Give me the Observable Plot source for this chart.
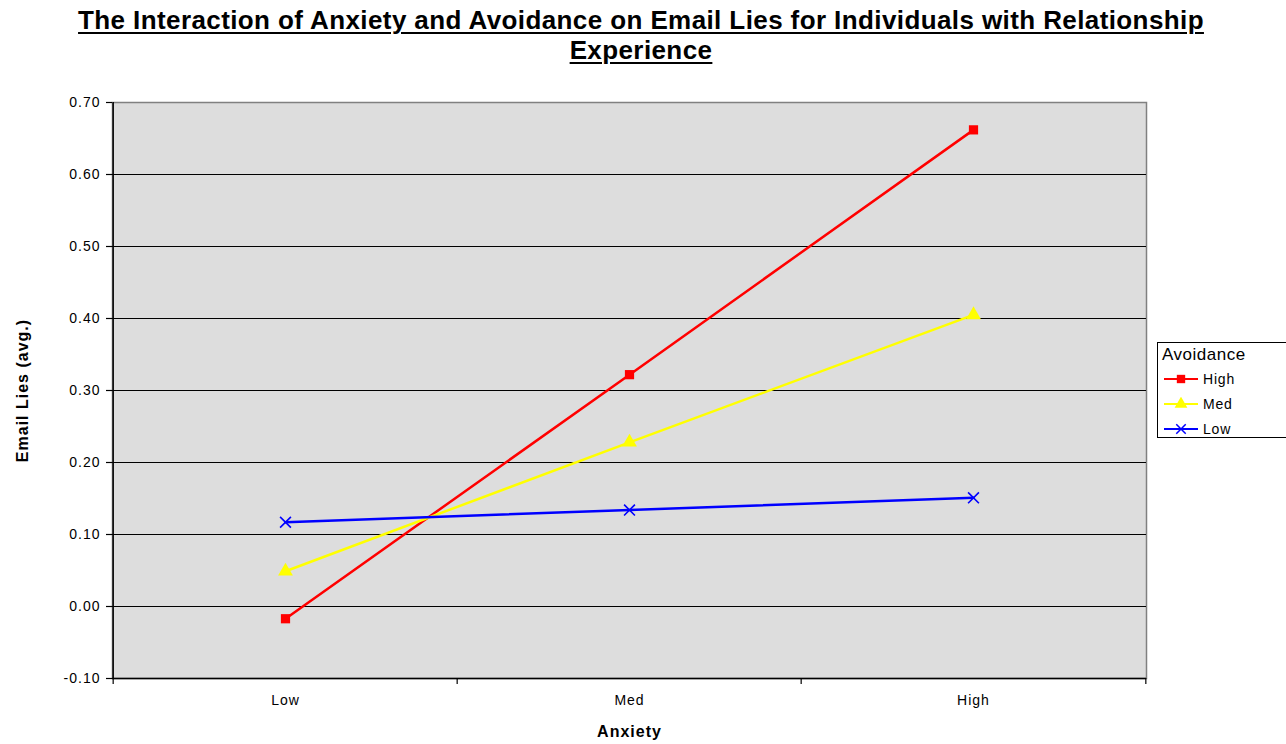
<!DOCTYPE html>
<html>
<head>
<meta charset="utf-8">
<script src="https://cdn.jsdelivr.net/npm/d3@7"></script>
<script src="https://cdn.jsdelivr.net/npm/@observablehq/plot@0.6"></script>
<style>
  html, body { margin: 0; padding: 0; background: white; }
  #wrap { position: relative; width: 1286px; height: 744px; font-family: "Liberation Sans", Arial, sans-serif; }
  #title { position: absolute; left: 71px; top: 5px; width: 1140px; text-align: center; font-weight: bold; font-size: 26px; letter-spacing: 0.4px; line-height: 30px; text-decoration: underline; text-decoration-thickness: 2px; text-underline-offset: 3px; }
  #legend { position: absolute; left: 1157px; top: 342px; width: 131px; height: 96px; border: 1px solid black; box-sizing: border-box; background: white; }
  #legend .head { position: absolute; left: 4px; top: 2px; font-size: 17px; letter-spacing: 0.5px; }
  #legend .item { position: absolute; left: 6px; height: 20px; font-size: 14px; letter-spacing: 0.8px; display: flex; align-items: center; }
  #legend .item svg { margin-right: 5px; }
  #chart { position: absolute; left: 0; top: 0; }
  #chart svg text { letter-spacing: 1px; }
</style>
</head>
<body>
<div id="wrap">
  <div id="chart"></div>
  <div id="title"></div>
  <div id="legend"></div>
</div>
<script>
const titleText = "The Interaction of Anxiety and Avoidance on Email Lies for Individuals with Relationship Experience";
const xLabel = "Anxiety";
const yLabel = "Email Lies (avg.)";
const legendTitle = "Avoidance";
const anxiety = ["Low", "Med", "High"];
const avoidance = ["High", "Med", "Low"];
const highAvoidance = [-0.017, 0.322, 0.662];
const medAvoidance = [0.049, 0.228, 0.405];
const lowAvoidance = [0.117, 0.134, 0.151];
const yTicks = [-0.10, 0.00, 0.10, 0.20, 0.30, 0.40, 0.50, 0.60, 0.70];
const colors = ["#FF0000", "#FFFF00", "#0000FF"];
const symbols = ["square", "triangle", "times"];

const seriesValues = [highAvoidance, medAvoidance, lowAvoidance];
const data = [];
avoidance.forEach((s, i) => anxiety.forEach((a, j) => data.push({series: s, anxiety: a, value: seriesValues[i][j]})));

const W = 1286, H = 744, ML = 112, MR = 140, MT = 102, MB = 66;
const step = (W - ML - MR) / anxiety.length;

const chart = Plot.plot({
  width: W, height: H,
  marginLeft: ML, marginRight: MR, marginTop: MT, marginBottom: MB,
  style: {fontFamily: "'Liberation Sans', Arial, sans-serif", fontSize: "14px", background: "white", color: "black", overflow: "visible"},
  x: {type: "point", domain: anxiety, padding: 0.5, axis: null},
  y: {domain: [yTicks[0], yTicks[yTicks.length - 1]], axis: null},
  color: {domain: avoidance, range: colors},
  marks: [
    Plot.frame({fill: "#DDDDDD", stroke: "#808080", strokeWidth: 1.5}),
    Plot.ruleY(yTicks.slice(1, -1), {stroke: "black", strokeWidth: 1}),
    Plot.ruleY([yTicks[0]], {stroke: "black", strokeWidth: 1.5}),
    Plot.ruleX([anxiety[0]], {dx: -step / 2, stroke: "black", strokeWidth: 1.5}),
    Plot.axisY({ticks: yTicks, label: null, tickSize: 6, tickPadding: 6, tickFormat: d => d.toFixed(2), stroke: "black", strokeWidth: 1.2}),
    Plot.axisX({ticks: anxiety, label: null, tickSize: 6, tickFormat: () => "", dx: -step / 2, stroke: "black", strokeWidth: 1.2}),
    Plot.axisX({ticks: [anxiety[anxiety.length - 1]], label: null, tickSize: 6, tickFormat: () => "", dx: step / 2, stroke: "black", strokeWidth: 1.2}),
    Plot.axisX({ticks: anxiety, label: null, tickSize: 0, tickPadding: 17, fontSize: 14}),
    Plot.text([yLabel], {frameAnchor: "left", textAnchor: "middle", lineAnchor: "middle", dx: -90, rotate: -90, fontWeight: "bold", fontSize: 16}),
    Plot.text([xLabel], {frameAnchor: "bottom", textAnchor: "middle", lineAnchor: "middle", dy: 53, fontWeight: "bold", fontSize: 16}),
    Plot.line(data, {x: "anxiety", y: "value", z: "series", stroke: "series", strokeWidth: 2.5}),
    Plot.dot(data.filter(d => d.series === "High"), {x: "anxiety", y: "value", symbol: "square", r: 5.2, fill: colors[0], stroke: "none"}),
    Plot.dot(data.filter(d => d.series === "Med"), {x: "anxiety", y: "value", symbol: "triangle", r: 5.5, fill: colors[1], stroke: "none"}),
    Plot.dot(data.filter(d => d.series === "Low"), {x: "anxiety", y: "value", symbol: "times", r: 5, stroke: colors[2], strokeWidth: 1.6, fill: "none"})
  ]
});
document.getElementById("chart").appendChild(chart);
document.getElementById("title").textContent = titleText;

const legend = document.getElementById("legend");
const head = document.createElement("div");
head.className = "head";
head.textContent = legendTitle;
legend.appendChild(head);
avoidance.forEach((s, i) => {
  const item = document.createElement("div");
  item.className = "item";
  item.style.top = (26 + i * 25) + "px";
  const ns = "http://www.w3.org/2000/svg";
  const svg = document.createElementNS(ns, "svg");
  svg.setAttribute("width", 34); svg.setAttribute("height", 14);
  const ln = document.createElementNS(ns, "line");
  ln.setAttribute("x1", 0); ln.setAttribute("x2", 34); ln.setAttribute("y1", 7); ln.setAttribute("y2", 7);
  ln.setAttribute("stroke", colors[i]); ln.setAttribute("stroke-width", 2);
  svg.appendChild(ln);
  const g = document.createElementNS(ns, "path");
  const sym = {square: d3.symbolSquare, triangle: d3.symbolTriangle, times: d3.symbolTimes}[symbols[i]];
  g.setAttribute("d", d3.symbol(sym, i === 2 ? 60 : 70)());
  g.setAttribute("transform", "translate(17,7)");
  if (i === 2) { g.setAttribute("fill", "none"); g.setAttribute("stroke", colors[i]); g.setAttribute("stroke-width", 1.5); }
  else g.setAttribute("fill", colors[i]);
  svg.appendChild(g);
  item.appendChild(svg);
  const t = document.createElement("span");
  t.textContent = s;
  item.appendChild(t);
  legend.appendChild(item);
});
</script>
</body>
</html>
